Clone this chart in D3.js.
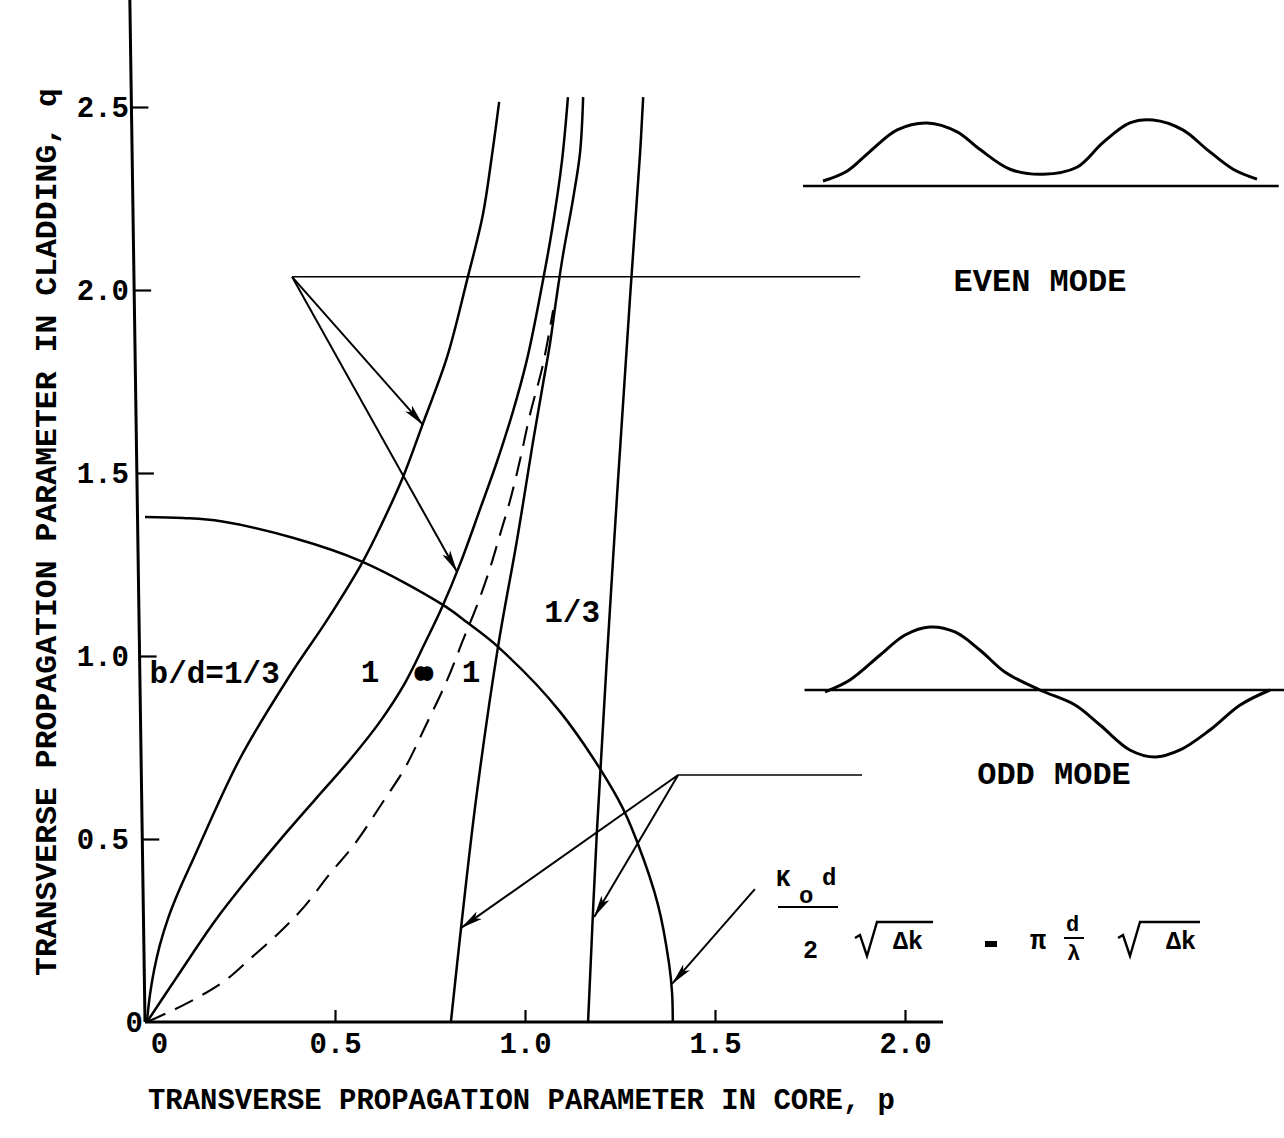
<!DOCTYPE html>
<html>
<head>
<meta charset="utf-8">
<script src="https://cdn.jsdelivr.net/npm/d3@7"></script>
<style>
  html, body { margin: 0; padding: 0; background: #fff; }
  svg { display: block; }
  text { font-family: "Liberation Mono", "DejaVu Sans Mono", monospace; fill: #000; }
</style>
</head>
<body>
<svg id="chart" width="1284" height="1138"></svg>
<script>
// ---- axis ticks ----
const xTicks = [0, 0.5, 1.0, 1.5, 2.0];
const xTickLabels = ["0", "0.5", "1.0", "1.5", "2.0"];
const yTicks = [0, 0.5, 1.0, 1.5, 2.0, 2.5];
const yTickLabels = ["0", "0.5", "1.0", "1.5", "2.0", "2.5"];
const xAxisEnd = 2.1;
const yAxisTop = 2.8;
const yAxisLean = -0.04;   // the vertical axis leans slightly left toward the top

const xTitle = "TRANSVERSE PROPAGATION PARAMETER IN CORE, p";
const yTitle = "TRANSVERSE PROPAGATION PARAMETER IN CLADDING, q";

// ---- even-mode dispersion curves (p, q) ----
const evenThird = [[0.005,0],[0.013,0.074],[0.024,0.142],[0.039,0.210],[0.061,0.284],[0.087,0.353],
  [0.126,0.443],[0.25,0.72],[0.382,0.948],[0.479,1.098],[0.571,1.254],[0.625,1.365],[0.679,1.489],
  [0.732,1.637],[0.795,1.817],[0.847,2.025],[0.889,2.205],[0.912,2.36],[0.932,2.514]];
const evenOne = [[0.005,0],[0.082,0.120],[0.184,0.276],[0.268,0.388],[0.355,0.497],[0.447,0.607],
  [0.539,0.716],[0.618,0.820],[0.684,0.926],[0.737,1.036],[0.782,1.134],[0.829,1.251],[0.882,1.402],
  [0.926,1.530],[0.968,1.667],[1.005,1.809],[1.039,1.981],[1.071,2.164],[1.097,2.350],[1.113,2.527]];
const evenInf = [[0.005,0],[0.063,0.027],[0.137,0.066],[0.213,0.115],[0.279,0.175],[0.355,0.246],
  [0.418,0.314],[0.484,0.402],[0.55,0.484],[0.626,0.601],[0.684,0.694],[0.737,0.806],[0.795,0.934],
  [0.837,1.044],[0.874,1.139],[0.908,1.240],[0.934,1.331],[0.961,1.426],[0.987,1.536],[1.013,1.659],
  [1.047,1.795],[1.074,1.945]];

// ---- odd-mode dispersion curves (p, q) ----
const oddOne = [[0.805,0],[0.832,0.26],[0.871,0.607],[0.929,1.025],[0.979,1.317],[1.021,1.585],
  [1.047,1.741],[1.066,1.855],[1.082,1.973],[1.100,2.096],[1.126,2.246],[1.145,2.377],[1.153,2.527]];
const oddThird = [[1.166,0],[1.189,0.516],[1.232,1.27],[1.276,1.973],[1.303,2.377],[1.311,2.527]];

// ---- normalized frequency circle (p, q) ----
const vCircle = [[0,1.38],[0.1,1.377],[0.2,1.368],[0.389,1.323],[0.571,1.258],[0.782,1.141],[0.85,1.09],
  [0.929,1.025],[1.092,0.848],[1.247,0.605],[1.297,0.487],[1.35,0.32],[1.379,0.16],[1.387,0.08],[1.389,0]];

// ---- annotation leaders (p, q) ----
const evenLeaderFrom = [0.387, 2.036];
const evenLeaderEnd = [1.882, 2.036];
const evenArrowTargets = [[0.732, 1.631], [0.821, 1.23]];
const oddLeaderFrom = [1.403, 0.675];
const oddLeaderEnd = [1.887, 0.675];
const oddArrowTargets = [[0.832, 0.257], [1.182, 0.287]];
const formulaLeader = [[1.605, 0.363], [1.387, 0.104]];

// ---- curve labels: text, p, q, anchor ----
const curveLabels = [
  ["b/d=1/3", 0.012, 0.926, "start"],
  ["1", 0.592, 0.929, "middle"],
  ["1", 0.858, 0.929, "middle"],
  ["1/3", 1.124, 1.093, "middle"]
];

// ---- field profile sketches (u across, v relative height) ----
const evenProfile = [[0,0.075],[0.055,0.224],[0.108,0.522],[0.171,0.851],[0.24,0.955],[0.309,0.821],
  [0.362,0.552],[0.431,0.254],[0.507,0.179],[0.585,0.284],[0.645,0.657],[0.707,0.955],[0.76,1.0],
  [0.829,0.851],[0.885,0.552],[0.945,0.254],[1.0,0.104]];
const oddProfile = [[0,-0.03],[0.056,0.16],[0.124,0.556],[0.18,0.873],[0.236,1.0],[0.292,0.921],
  [0.348,0.635],[0.404,0.286],[0.483,0],[0.562,-0.238],[0.618,-0.556],[0.685,-0.952],[0.742,-1.063],
  [0.798,-0.952],[0.865,-0.635],[0.933,-0.238],[1.0,0]];
const profileBaseline = [-0.046, 1.05];

// ================= drawing =================
const svg = d3.select("#chart");
const x = d3.scaleLinear().domain([0, 2]).range([145, 905]);
const y = d3.scaleLinear().domain([0, 2]).range([1022, 290]);
const lean = q => x(yAxisLean * q / yAxisTop) - x(0);

const defs = svg.append("defs");
defs.append("marker")
  .attr("id", "head")
  .attr("viewBox", "0 -5 22 10")
  .attr("refX", 22).attr("refY", 0)
  .attr("markerWidth", 22).attr("markerHeight", 10)
  .attr("markerUnits", "userSpaceOnUse")
  .attr("orient", "auto")
  .append("path")
  .attr("d", "M0,-4.5L22,0L0,4.5L5,0Z")
  .attr("fill", "#000");

const curve = d3.line()
  .x(d => x(d[0])).y(d => y(d[1]))
  .curve(d3.curveCatmullRom.alpha(0.5));
const straight = d3.line().x(d => x(d[0])).y(d => y(d[1]));

// axes
const xAxis = d3.axisBottom(x).tickValues(xTicks)
  .tickFormat((d, i) => xTickLabels[i]).tickSizeInner(-12).tickSizeOuter(0).tickPadding(10);
const yAxis = d3.axisLeft(y).tickValues(yTicks)
  .tickFormat((d, i) => yTickLabels[i]).tickSizeInner(-17).tickSizeOuter(0).tickPadding(16);

const gx = svg.append("g").attr("transform", `translate(0,${y(0)})`).call(xAxis);
const gy = svg.append("g").attr("transform", `translate(${x(0)},0)`).call(yAxis);
[gx, gy].forEach(g => {
  g.select(".domain").remove();
  g.selectAll(".tick line").attr("stroke", "#000").attr("stroke-width", 2.2);
  g.selectAll(".tick text").attr("font-size", 29).attr("font-weight", "bold")
    .style("font-family", '"Liberation Mono", monospace');
});
// tick marks follow the leaning axis line
gy.selectAll(".tick line").attr("transform", d => `translate(${lean(d)},0)`);
gy.selectAll(".tick").filter(d => d === 0).select("line").remove();
gx.selectAll(".tick").filter(d => d === 0).select("line").remove();
gx.selectAll(".tick").filter(d => d === 0).select("text").attr("dx", 14);
gy.selectAll(".tick").filter(d => d === 0).select("text").attr("dx", 14);

// axis lines
svg.append("path").attr("d", straight([[0, 0], [xAxisEnd, 0]]))
  .attr("stroke", "#000").attr("stroke-width", 3).attr("fill", "none");
svg.append("path").attr("d", straight([[0, 0], [yAxisLean, yAxisTop]]))
  .attr("stroke", "#000").attr("stroke-width", 3).attr("fill", "none");

// dispersion curves
const solidCurves = [evenThird, evenOne, oddOne, oddThird, vCircle];
svg.append("g").selectAll("path").data(solidCurves).join("path")
  .attr("d", curve).attr("fill", "none").attr("stroke", "#000").attr("stroke-width", 2.5);
svg.append("path").attr("d", curve(evenInf))
  .attr("fill", "none").attr("stroke", "#000").attr("stroke-width", 2.1)
  .attr("stroke-dasharray", "20,11");

// leaders and arrows
const leaders = svg.append("g").attr("stroke", "#000").attr("fill", "none");
leaders.append("path").attr("d", straight([evenLeaderFrom, evenLeaderEnd])).attr("stroke-width", 1.6);
leaders.append("path").attr("d", straight([oddLeaderFrom, oddLeaderEnd])).attr("stroke-width", 1.6);
evenArrowTargets.forEach(t => leaders.append("path").attr("d", straight([evenLeaderFrom, t]))
  .attr("stroke-width", 2).attr("marker-end", "url(#head)"));
oddArrowTargets.forEach(t => leaders.append("path").attr("d", straight([oddLeaderFrom, t]))
  .attr("stroke-width", 2).attr("marker-end", "url(#head)"));
leaders.append("path").attr("d", straight(formulaLeader))
  .attr("stroke-width", 2).attr("marker-end", "url(#head)");

// curve labels
svg.append("g").selectAll("text").data(curveLabels).join("text")
  .attr("x", d => x(d[1])).attr("y", d => y(d[2]))
  .attr("text-anchor", d => d[3])
  .attr("font-size", 31).attr("font-weight", "bold")
  .text(d => d[0]);
svg.append("text").attr("x", x(0.734)).attr("y", y(0.935))
  .attr("text-anchor", "middle").attr("font-size", 22).attr("font-weight", "bold")
  .attr("stroke", "#000").attr("stroke-width", 6).attr("stroke-linejoin", "round")
  .text("\u221E");

// titles
svg.append("text").attr("x", 148).attr("y", 1109)
  .attr("font-size", 29).attr("font-weight", "bold")
  .attr("textLength", 747).attr("lengthAdjust", "spacingAndGlyphs")
  .text(xTitle);
svg.append("text").attr("transform", "translate(56,976) rotate(-90)")
  .attr("font-size", 30).attr("font-weight", "bold")
  .attr("textLength", 888).attr("lengthAdjust", "spacingAndGlyphs")
  .text(yTitle);

// field profile sketches
function drawProfile(data, x0, x1, base, amp, label, lx, ly) {
  const u = d3.scaleLinear().domain([0, 1]).range([x0, x1]);
  const v = d3.scaleLinear().domain([0, 1]).range([base, base - amp]);
  svg.append("path")
    .attr("d", d3.line().x(d => u(d[0])).y(d => v(d[1])).curve(d3.curveCatmullRom)(data))
    .attr("fill", "none").attr("stroke", "#000").attr("stroke-width", 3);
  svg.append("path")
    .attr("d", d3.line().x(d => u(d)).y(() => v(0))(profileBaseline))
    .attr("fill", "none").attr("stroke", "#000").attr("stroke-width", 2.6);
  svg.append("text").attr("x", lx).attr("y", ly).attr("text-anchor", "middle")
    .attr("font-size", 32).attr("font-weight", "bold").text(label);
}
drawProfile(evenProfile, 823, 1257, 186, 66, "EVEN MODE", 1040, 291);
drawProfile(oddProfile, 825, 1270, 690, 63, "ODD MODE", 1054, 784);

// formula: Ko d / 2 * sqrt(dk) = pi * d/lambda * sqrt(dk)
const f = svg.append("g").attr("font-weight", "bold");
f.append("text").attr("x", 776).attr("y", 886).attr("font-size", 24).text("K");
f.append("text").attr("x", 799).attr("y", 903).attr("font-size", 24).text("o");
f.append("text").attr("x", 822).attr("y", 885).attr("font-size", 24).text("d");
f.append("line").attr("x1", 778).attr("x2", 838).attr("y1", 907).attr("y2", 907)
  .attr("stroke", "#000").attr("stroke-width", 2);
f.append("text").attr("x", 803).attr("y", 958).attr("font-size", 25).text("2");
function sqrtSign(x0, yTop, w) {
  f.append("path")
    .attr("d", `M${x0},${yTop + 16} L${x0 + 5},${yTop + 13} L${x0 + 12},${yTop + 34} L${x0 + 22},${yTop} L${x0 + w},${yTop}`)
    .attr("fill", "none").attr("stroke", "#000").attr("stroke-width", 2.4);
}
sqrtSign(855, 922, 78);
f.append("text").attr("x", 893).attr("y", 949).attr("font-size", 25).text("\u0394k");
f.append("rect").attr("x", 985).attr("y", 941).attr("width", 12).attr("height", 6);
f.append("text").attr("x", 1030).attr("y", 949).attr("font-size", 27).text("\u03C0");
f.append("text").attr("x", 1066).attr("y", 931).attr("font-size", 22).text("d");
f.append("line").attr("x1", 1064).attr("x2", 1084).attr("y1", 938).attr("y2", 938)
  .attr("stroke", "#000").attr("stroke-width", 2);
f.append("text").attr("x", 1067).attr("y", 960).attr("font-size", 22).text("\u03BB");
sqrtSign(1118, 922, 82);
f.append("text").attr("x", 1166).attr("y", 949).attr("font-size", 25).text("\u0394k");
</script>
</body>
</html>
